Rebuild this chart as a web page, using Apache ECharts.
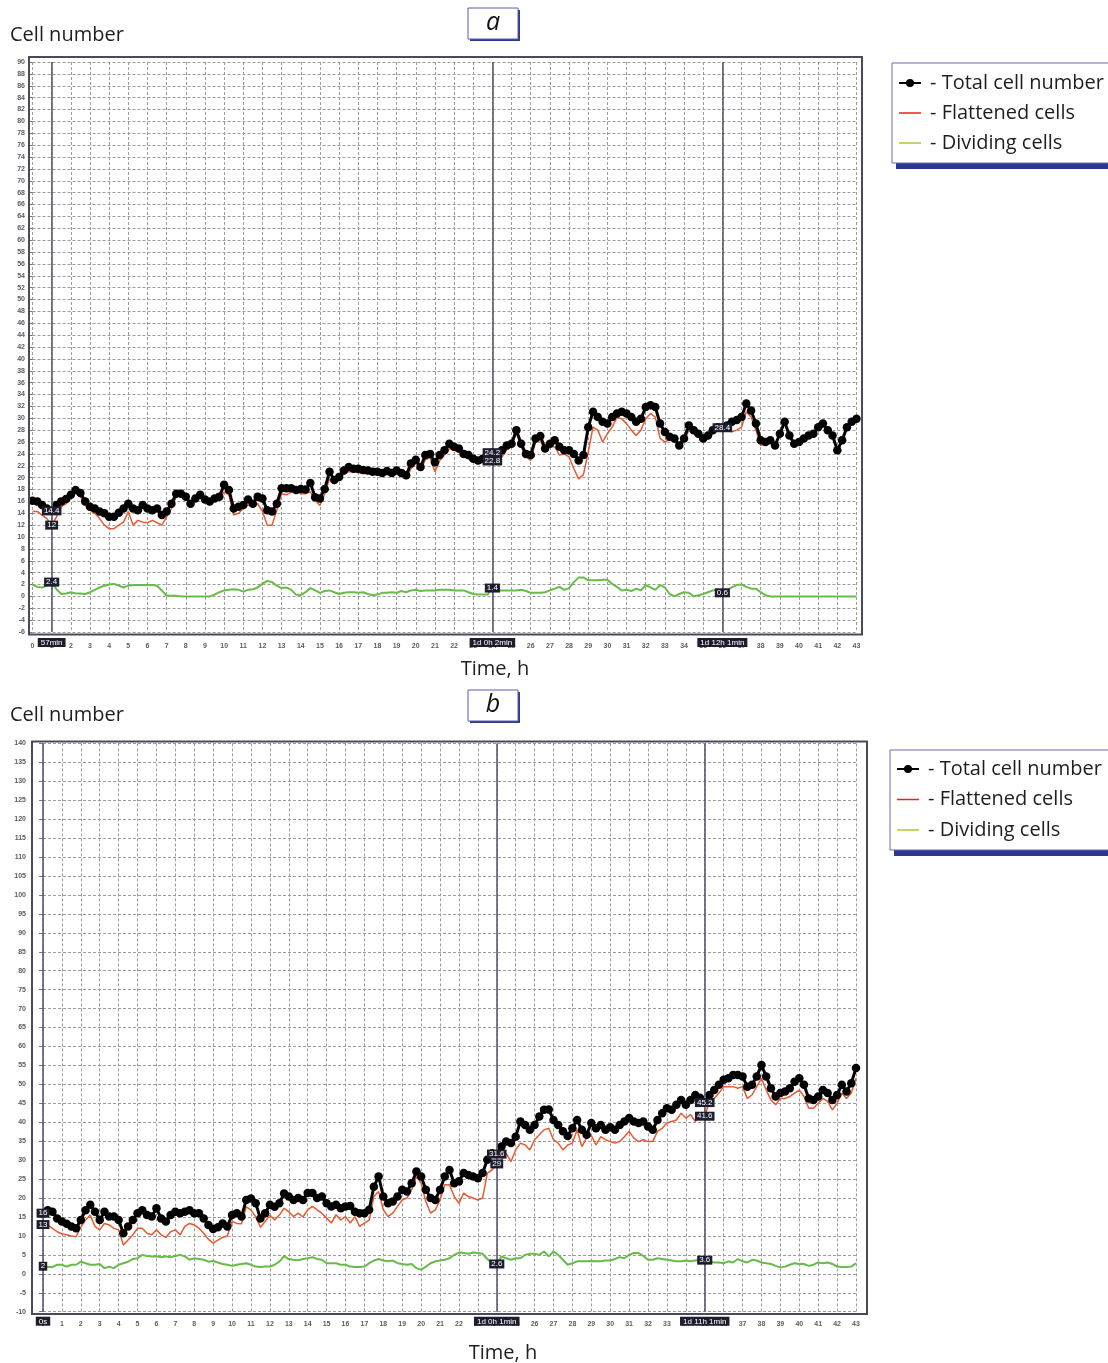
<!DOCTYPE html>
<html>
<head>
<meta charset="utf-8">
<script src="https://cdn.jsdelivr.net/npm/echarts@6/dist/echarts.min.js"></script>
<style>
html,body{margin:0;padding:0;background:#fff}
#chart{width:1108px;height:1363px}
</style>
</head>
<body>
<div id="chart"></div>
<script>
// Sampling times, every 15 minutes from 0 to 43 h
const hours = Array.from({length: 173}, (_, i) => i / 4);

// Panel a
const totalA = [
  16.1,16,15.4,14.8, 14.4,15.4,16,16.4, 17.1,17.9,17.4,16, 15.1,14.8,14.3,14,
  13.4,13.4,14.1,14.8, 15.6,14.8,14.5,15.4, 14.8,14.5,14.8,13.7, 14.3,15.6,17.3,17.3,
  16.8,15.6,16.5,17.1, 16.3,16,16.5,16.8, 18.8,17.9,14.8,15.1, 15.4,16.3,15.6,16.8,
  16.5,14.5,14.3,15.6, 18.2,18.2,18.2,17.9, 18.1,18,19.1,16.7, 16.5,18.1,21,19.6,
  20.1,21.2,21.8,21.5, 21.5,21.3,21.2,21, 21,20.8,21.1,20.8, 21.2,20.8,20.4,22.4,
  23,21.8,23.8,24, 22.6,23.8,24.6,25.7, 25.2,24.9,24,23.8, 23.2,22.9,23.2,23.5,
  24.2,24,24.6,25.4, 25.7,28,25.7,24, 23.8,26.6,27,24.9, 25.7,26.3,25.2,24.6,
  24.6,24,22.9,23.8, 28.5,31.1,30.2,29.4, 29.1,30.2,30.8,31.1, 30.8,30.2,29.4,29.9,
  31.9,32.2,31.9,29.1, 27.7,26.9,26.6,25.4, 26.6,28.8,28,27.4, 26.6,27.1,28,28.5,
  28.4,28.8,29.4,29.7, 30.2,32.5,31.3,29.1, 26.3,26,26.3,25.4, 27.4,29.4,27.1,25.7,
  26,26.6,27.1,27.4, 28.5,29.1,28,27.1, 24.6,26.3,28.5,29.4, 29.9
];
const flatA = [
  14.3,14.3,13.7,13.1, 12,13.4,15.1,15.6, 16.5,17.5,16.8,15.4, 14.5,14,13.1,12,
  11.4,11.4,12,12.5, 14.3,12,12.8,12.5, 12.4,12.8,12.4,12, 13.4,14.8,16.8,17.1,
  16.3,15.6,16.8,16.8, 16.5,15.6,16.3,16.3, 17.6,17.1,13.7,14, 14.8,15.4,15.1,15.6,
  14.3,12,12,14.5, 17.3,17.1,17.6,17.6, 17.3,17.3,17.6,16.2, 15.3,17.3,19.8,19,
  19.6,20.6,21,21, 20.8,20.7,20.7,20.6, 20.6,20.4,20.6,20.2, 20.6,20.2,19.8,21.5,
  22.4,21.2,23,23.4, 21,22.9,23.8,24.9, 24.6,24.3,23.5,23.2, 22.6,22.4,22.5,22.6,
  22.8,22.9,23.5,24.7, 25.2,27.5,25.2,23.5, 22.9,26,26.3,24.3, 25.2,25.2,23.8,24,
  23.5,21.5,19.8,20.5, 24.3,28.5,28,26, 27.4,28.5,30.2,29.9, 29.1,28,27.1,28,
  29.9,30.8,30.2,26.6, 26,26.4,26,25.2, 26,28,27.4,27, 26,26.6,27.4,28,
  27.8,28,27.7,28, 28.5,31.1,30.2,28, 25.4,25.7,26,25.4, 27.1,29.1,26.9,25.7,
  26,26.4,27,27.4, 28.3,29.1,27.7,26.9, 24.6,26,28.5,29.4, 29.9
];
const divA = [
  2,1.6,1.5,1.8, 2.4,1.2,0.4,0.5, 0.7,0.5,0.5,0.4, 0.7,1.1,1.5,1.8,
  2,2.1,1.8,1.5, 1.8,1.9,1.9,1.9, 1.9,1.9,1.8,1, 0.1,0.1,0.1,0,
  0,0,0,0, 0,0,0.3,0.7, 1,1.1,1.2,1.1, 0.8,1.1,1.2,1.5,
  2.1,2.6,2.4,1.8, 1.4,1.5,1.1,0.3, 0.2,0.7,1.4,1, 0.6,0.9,1,0.7,
  0.4,0.6,0.7,0.7, 0.6,0.7,0.4,0.2, 0.3,0.6,0.6,0.7, 0.6,0.9,0.7,1,
  1.1,0.9,1,1, 1,1.1,1.1,1.1, 1,1,1,0.7, 0.4,0.3,0.3,0.3,
  1.4,1,1,1, 1,1,1.1,0.9, 0.6,0.6,0.6,0.7, 1,1.3,1.6,1.1,
  1.4,2.4,3.2,3.2, 2.7,2.7,2.7,2.8, 2.8,2.1,1.6,1, 1.1,0.9,1.3,1,
  1.9,1.5,1.1,1.9, 1.5,0.4,0,0.4, 0.7,0.6,0,0.2, 0.4,0.7,1,1.1,
  0.6,1.1,1.5,1.9, 2,1.6,1.3,1.3, 0.7,0.2,0,0, 0,0,0,0,
  0,0,0,0, 0,0,0,0, 0,0,0,0, 0
];

// Panel b
const totalB = [
  16,16.8,16.4,14.6, 13.8,13.2,12.5,12, 14.2,16.8,18.2,16.4, 14.2,16.4,15.1,15.1,
  14.2,10.7,12.5,14.2, 16,16.8,15.5,15.1, 17.3,14.6,13.8,15.5, 16.4,16,16.4,16.8,
  16,16,14.6,12.9, 11.8,12.3,13.3,12.5, 15.5,16,15.1,19.5, 19.9,18.6,14.6,16,
  18.2,17.7,18.6,21.2, 20.4,19.5,20,19.5, 21.3,21.3,20,20.4, 18.6,17.8,18.2,17.3,
  17.8,17.9,16.4,16, 16,16.9,23,25.7, 20.4,18.6,19.1,20.4, 22.2,21.7,23.9,27,
  25.7,22.2,20,19.5, 22.2,25.7,27.4,23.9, 24.4,26.6,26.1,25.7, 25.2,26.6,30.1,31.8,
  31.6,33.6,34.9,34.5, 36.2,40.2,39.3,38, 39.3,41.5,43.3,43.4, 40.6,39.3,37.6,36.4,
  38.4,40.6,38,36.7, 39.8,38.4,39.3,38, 38.7,38,39.3,40.2, 41.1,40.2,39.8,40.2,
  38.9,38,40.6,42.4, 43.7,43.3,44.6,45.9, 44.6,45.9,47.2,46.5, 45.2,47.2,48.5,49.9,
  51.2,51.6,52.5,52.5, 52.1,49.4,49.9,52.1, 55.1,52.1,49,46.8, 47.7,48.1,49,50.7,
  51.6,49.9,46.3,45.9, 46.8,48.5,47.7,45.9, 47.2,49.9,48.1,50.3, 54.3
];
const flatB = [
  13,12.9,12,11.1, 10.5,10.3,10,9.8, 12.3,14.2,15.5,12.5, 11.6,13.3,12.9,12,
  11.6,7.6,8.9,10.3, 12,12,10.7,10.3, 11.6,10.3,9.6,11.1, 11.6,10.3,12.5,13.3,
  12.9,12,10.7,9.1, 8.1,8.9,9.6,10, 13.8,13.3,13.2,17.7, 16.8,15.1,12.3,13.8,
  15.5,14.2,15.5,17.3, 16.4,15.1,16,15, 16.9,17.8,16.9,16, 14.7,13.4,15.6,14.2,
  15.1,13.4,15.1,12.5, 13.4,14.2,20.4,21.7, 16.9,15.1,16,17.8, 19.5,20,22.2,25.7,
  23.9,19.1,16,16.9, 19.5,23.5,23.5,20.4, 18.6,21.3,20.4,20, 19.5,20,26.6,27.4,
  29,30.1,31.8,29.6, 32.7,34.5,34,32.7, 35.4,36.7,38,38.4, 35.4,34.5,32.7,34,
  34.5,38,33.6,35.8, 36.5,34,36.2,35.4, 34.9,34.5,34.9,36.2, 37.6,35.8,34.9,35.4,
  34.9,34.9,37.6,38.4, 39.8,40.2,40.6,42.4, 41.1,42,40.2,42, 41.6,45.5,46.3,47.7,
  49.4,49.4,49.4,49, 49.4,46.3,47.2,49.4, 51.6,48.5,45.9,44.6, 46.3,46.3,46.8,47.7,
  48.5,46.8,43.7,43.7, 45,46.3,45.5,43.3, 45,47.7,46.3,47.7, 51.6
];
const divB = [
  2,1.8,1.8,2.4, 2.4,1.9,2.4,2.4, 3.2,2.8,2.4,2.4, 2.6,1.5,1.9,1.5,
  2.4,2.8,3.2,3.9, 4.1,5,4.7,4.6, 4.6,4.4,4.6,4.4, 4.7,5,4.6,3.7,
  4.1,3.9,3.7,3.2, 3.4,3,2.6,2.4, 2.1,2.4,2.6,2.8, 2.4,1.9,1.8,1.9,
  1.9,2.4,3.2,4.6, 3.9,3.7,3.6,3.9, 4.1,4.4,3.9,3.7, 2.8,2.8,2.8,2.4,
  2.4,1.9,1.8,1.8, 1.9,2.8,3.5,3.9, 3.5,3.3,3.5,2.8, 2.6,2.4,2.6,1.5,
  1.1,1.9,2.8,3.3, 3.5,3.7,4.1,5, 5.6,5.5,5.3,5.6, 5.5,5.3,3.9,2.8,
  2.6,4.6,4.1,3.7, 4.1,4.1,5,5.3, 5.3,5,5.9,4.6, 5.9,5,3.7,2.4,
  2.8,3.3,3.3,3.3, 3.4,3.3,3.3,3.5, 3.5,3.9,4.4,4.1, 5,5.5,5.5,4.7,
  3.7,3.7,4.1,3.9, 3.7,3.5,3.3,3.3, 3.5,3.3,3.5,3.7, 3.6,3.3,3,3,
  2.8,3.3,3,3.9, 3.3,3,3.7,3.5, 3,2.8,2.6,2.1, 1.7,1.9,2.4,2.8,
  2.6,2.6,2.1,2.4, 3,2.8,3,2.6, 1.9,1.8,1.8,1.9, 2.8
];

// Cursor positions (sample index) and their time captions
const cursorsA = [{idx: 4, text: '57min'}, {idx: 96, text: '1d 0h 2min'}, {idx: 144, text: '1d 12h 1min'}];
const cursorsB = [{idx: 0, text: '0s'}, {idx: 96, text: '1d 0h 1min'}, {idx: 140, text: '1d 11h 1min'}];

const SERIES_NAMES = ['Total cell number', 'Flattened cells', 'Dividing cells'];
const TICK_FONT = 'Liberation Sans, Arial, sans-serif';
const TEXT_FONT = '"Open Sans", "Noto Sans", sans-serif';

function pairs(arr) { return arr.map((v, i) => [hours[i], v]); }

const valueLabel = {
  show: true, position: 'inside', formatter: '{c}',
  color: '#fff', backgroundColor: '#1d1d2e', fontSize: 8,
  fontFamily: TICK_FONT, padding: [1, 2, 0, 2]
};

function cursorValues(arr, cursors, skip) {
  return {
    symbol: 'rect', symbolSize: 1, silent: true,
    itemStyle: {color: 'rgba(0,0,0,0)'},
    label: valueLabel,
    data: cursors.filter((c, k) => !(skip || []).includes(k))
      .map(c => ({coord: [hours[c.idx], arr[c.idx]], value: arr[c.idx]}))
  };
}

function cursorLines(cursors, dist) {
  return {
    symbol: ['none', 'none'], silent: true, animation: false,
    lineStyle: {color: '#50506a', width: 1.5, type: 'solid'},
    label: {
      position: 'start', distance: dist, color: '#fff', backgroundColor: '#1d1d2e',
      fontSize: 8, fontFamily: TICK_FONT, padding: [1, 3, 0, 3]
    },
    data: cursors.map(c => ({xAxis: hours[c.idx], label: {formatter: c.text}}))
  };
}

function panelSeries(gi, total, flat, div, cursors, skipFlat, lineDist) {
  return [
    {
      name: SERIES_NAMES[1], type: 'line', xAxisIndex: gi, yAxisIndex: gi,
      data: pairs(flat), symbol: 'none', z: 2,
      lineStyle: {color: '#e8592f', width: 1.5}, itemStyle: {color: '#e8592f'},
      markPoint: cursorValues(flat, cursors, skipFlat)
    },
    {
      name: SERIES_NAMES[2], type: 'line', xAxisIndex: gi, yAxisIndex: gi,
      data: pairs(div), symbol: 'none', z: 2,
      lineStyle: {color: '#67bb48', width: 2}, itemStyle: {color: '#67bb48'},
      markPoint: cursorValues(div, cursors)
    },
    {
      name: SERIES_NAMES[0], type: 'line', xAxisIndex: gi, yAxisIndex: gi,
      data: pairs(total), symbol: 'circle', symbolSize: 8.5, showAllSymbol: true, z: 4,
      lineStyle: {color: '#000', width: 3}, itemStyle: {color: '#000'},
      markLine: cursorLines(cursors, lineDist),
      markPoint: Object.assign(cursorValues(total, cursors), {z: 6})
    }
  ];
}

function xAxisFor(gi, margin) {
  return {
    type: 'value', gridIndex: gi, min: 0, max: 43, interval: 1,
    axisLine: {show: false}, axisTick: {show: false},
    axisLabel: {fontSize: 7, color: '#5c5c5c', margin: margin, fontFamily: TICK_FONT, fontWeight: 'bold'},
    splitLine: {show: true, lineStyle: {color: '#9c9c9c', width: 1, type: [3, 2]}}
  };
}

function yAxisFor(gi, min, max, interval, margin) {
  return {
    type: 'value', gridIndex: gi, min: min, max: max, interval: interval,
    axisLine: {show: false},
    axisTick: {show: true, length: 4, lineStyle: {color: '#777'}},
    axisLabel: {fontSize: 7, color: '#5c5c5c', margin: margin, fontFamily: TICK_FONT, fontWeight: 'bold'},
    splitLine: {show: true, lineStyle: {color: '#9c9c9c', width: 1, type: [3, 2]}}
  };
}

function legendFor(left, top, gap) {
  return {
    left: left, top: top, orient: 'vertical', selectedMode: false, padding: 0,
    itemWidth: 22, itemHeight: 10, itemGap: gap,
    formatter: '- {name}',
    textStyle: {fontSize: 20, lineHeight: 20, color: '#1e1e1e', fontFamily: TEXT_FONT, padding: [0, 0, 0, 4]},
    data: [
      {name: SERIES_NAMES[0]},
      {name: SERIES_NAMES[1], itemStyle: {opacity: 0}, lineStyle: {color: '#e3231e', width: 1.5}},
      {name: SERIES_NAMES[2], itemStyle: {opacity: 0}, lineStyle: {color: '#a9c73b', width: 1.5}}
    ]
  };
}

function letterBox(x, y, letter) {
  return [
    {type: 'rect', shape: {x: x + 2, y: y + 2, width: 50, height: 31}, style: {fill: '#2f3a8c'}, z: 1},
    {type: 'rect', shape: {x: x, y: y, width: 50, height: 31}, style: {fill: '#fff', stroke: '#5a5ab2', lineWidth: 1}, z: 2},
    {type: 'text', x: x + 25, y: y + 15, z: 3,
     style: {text: letter, font: 'italic 25px ' + TEXT_FONT, fill: '#111', align: 'center', verticalAlign: 'middle'}}
  ];
}

function legendBox(x, y) {
  return [
    {type: 'rect', shape: {x: x + 4, y: y + 6, width: 230, height: 100}, style: {fill: '#2b3790'}, z: 1},
    {type: 'rect', shape: {x: x, y: y, width: 230, height: 100}, style: {fill: '#fff', stroke: '#6a6ab8', lineWidth: 1}, z: 2}
  ];
}

function caption(x, y, text, align) {
  return {type: 'text', x: x, y: y, z: 3,
    style: {text: text, font: '20px ' + TEXT_FONT, fill: '#1e1e1e', align: align, verticalAlign: 'middle'}};
}

const frameStyle = {fill: 'none', stroke: '#4a4a5a', lineWidth: 2};

const option = {
  animation: false,
  backgroundColor: '#fff',
  grid: [
    {left: 32.5, top: 62, width: 824, height: 570},
    {left: 43, top: 743.4, width: 813, height: 568.3}
  ],
  xAxis: [xAxisFor(0, 11), xAxisFor(1, 9)],
  yAxis: [yAxisFor(0, -6, 90, 2, 7.5), yAxisFor(1, -10, 140, 5, 17)],
  legend: [legendFor(898, 73, 10), legendFor(896, 759, 10.5)],
  series: [
    ...panelSeries(0, totalA, flatA, divA, cursorsA, [2], 6),
    ...panelSeries(1, totalB, flatB, divB, cursorsB, [], 5)
  ],
  graphic: [
    {type: 'rect', shape: {x: 29, y: 57, width: 833, height: 577.5}, style: frameStyle, z: 5, silent: true},
    {type: 'rect', shape: {x: 32, y: 741.5, width: 835, height: 572.5}, style: frameStyle, z: 5, silent: true},
    ...letterBox(468, 8, 'a'),
    ...letterBox(468, 690, 'b'),
    ...legendBox(892, 63),
    ...legendBox(890, 750),
    caption(10, 35, 'Cell number', 'left'),
    caption(495, 669, 'Time, h', 'center'),
    caption(10, 715, 'Cell number', 'left'),
    caption(503, 1353, 'Time, h', 'center')
  ]
};

const chart = echarts.init(document.getElementById('chart'), null, {renderer: 'canvas'});
chart.setOption(option);
</script>
</body>
</html>
